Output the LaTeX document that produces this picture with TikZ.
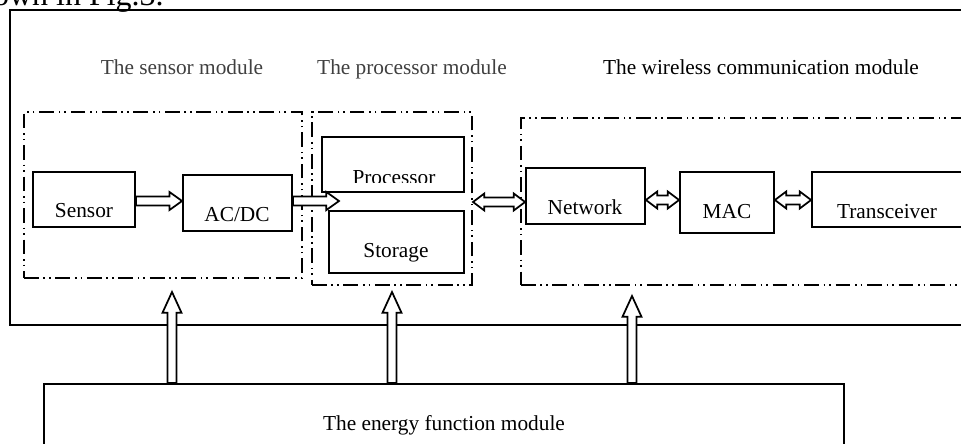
\documentclass[tikz,border=0pt]{standalone}
\usepackage{fontspec}
\setmainfont{Liberation Serif}
\usetikzlibrary{calc,fit}

\tikzset{
  box/.style={draw, line width=1.4pt, inner sep=0pt},
  modbox/.style={draw, line width=1.5pt, inner sep=0pt,
    dash pattern=on 11pt off 3.6pt on 1.2pt off 3pt on 1.2pt off 3.6pt},
  hollow/.style={draw, line width=1.3pt, fill=white, line join=miter},
  txt/.style={font=\fontsize{16pt}{19pt}\selectfont, inner sep=0pt, anchor=base},
  caption/.style={txt, text=black!75},
}

% hollow block arrow pointing right, from #1 to #2 (height taken from #1)
\newcommand\blockR[2]{\path[hollow] let \p1=(#1), \p2=(#2) in
  (\x1,\y1+3.4pt) -- (\x2-9.5pt,\y1+3.4pt) -- (\x2-9.5pt,\y1+6.8pt) -- (\x2,\y1)
  -- (\x2-9.5pt,\y1-6.8pt) -- (\x2-9.5pt,\y1-3.4pt) -- (\x1,\y1-3.4pt) -- cycle;}
% hollow block arrow with heads on both ends
\newcommand\blockLR[2]{\path[hollow] let \p1=(#1), \p2=(#2) in
  (\x1,\y1) -- (\x1+8.5pt,\y1+6.4pt) -- (\x1+8.5pt,\y1+3.4pt) -- (\x2-8.5pt,\y1+3.4pt)
  -- (\x2-8.5pt,\y1+6.4pt) -- (\x2,\y1) -- (\x2-8.5pt,\y1-6.4pt) -- (\x2-8.5pt,\y1-3.4pt)
  -- (\x1+8.5pt,\y1-3.4pt) -- (\x1+8.5pt,\y1-6.4pt) -- cycle;}
% hollow block arrow pointing up, from #1 to #2 (x taken from #1)
\newcommand\blockU[2]{\path[hollow] let \p1=(#1), \p2=(#2) in
  (\x1-3.4pt,\y1) -- (\x1-3.4pt,\y2-15.5pt) -- (\x1-7.1pt,\y2-15.5pt) -- (\x1,\y2)
  -- (\x1+7.1pt,\y2-15.5pt) -- (\x1+3.4pt,\y2-15.5pt) -- (\x1+3.4pt,\y1) -- cycle;}

\begin{document}
\begin{tikzpicture}[x=0.75pt, y=-0.75pt]
  \useasboundingbox (0,0) rectangle (961,443);
  \clip (0,0) rectangle (961,443);

  % line of running text above the figure
  \node[font=\fontsize{24pt}{28pt}\selectfont, inner sep=0pt, anchor=base east] (runin) at (164,5) {shown in Fig.3.};

  % outer frame of the node
  \node[box, line width=1.5pt, fit={(10,10) (975,325)}] (outer) {};

  % module captions
  \node[caption] (capsens) at (182,74) {The sensor module};
  \node[caption] (capproc) at (412,74) {The processor module};
  \node[txt] (capwless) at (761,74) {The wireless communication module};

  % dash-dot module frames
  \node[modbox, fit={(24,112) (302,278)}] (sensmod) {};
  \node[modbox, fit={(312,112) (472,285)}] (procmod) {};
  \node[modbox, fit={(521,118) (990,285)}] (wlmod) {};

  % functional blocks
  \node[box, fit={(33,172) (135,227)}] (sensor) {};
  \node[box, fit={(183,175) (292,231)}] (acdc) {};
  \node[box, fit={(322,137) (464,192)}] (proc) {};
  \node[box, fit={(329,211) (464,273)}] (stor) {};
  \node[box, fit={(526,168) (645,224)}] (net) {};
  \node[box, fit={(680,172) (774,233)}] (mac) {};
  \node[box, fit={(812,172) (990,227)}] (trx) {};
  \node[box, fit={(44,384) (844,470)}] (energy) {};

  % block labels
  \node[txt] (lsensor) at (84,217) {Sensor};
  \node[txt] (lacdc) at (237,221) {AC/DC};
  \begin{scope}
    \clip (322,137) rectangle (464,182.5);
    \node[txt] (lproc) at (394,184) {Processor};
  \end{scope}
  \node[txt] (lstor) at (396,257) {Storage};
  \node[txt] (lnet) at (585,214) {Network};
  \node[txt] (lmac) at (727,218) {MAC};
  \node[txt] (ltrx) at (887,218) {Transceiver};
  \node[txt] (lenergy) at (444,430) {The energy function module};

  % data flow
  \coordinate (datain) at (339,201);
  \blockR{sensor.east |- 0,201}{acdc.west}
  \blockR{acdc.east |- 0,201}{datain}
  \blockLR{procmod.east |- 0,202}{net.west}
  \blockLR{net.east |- 0,200}{mac.west}
  \blockLR{mac.east |- 0,200}{trx.west}

  % energy supply
  \coordinate (supA) at (172,292);
  \coordinate (supB) at (392,292);
  \coordinate (supC) at (632,296);
  \blockU{energy.north -| supA}{supA}
  \blockU{energy.north -| supB}{supB}
  \blockU{energy.north -| supC}{supC}
\end{tikzpicture}
\end{document}
